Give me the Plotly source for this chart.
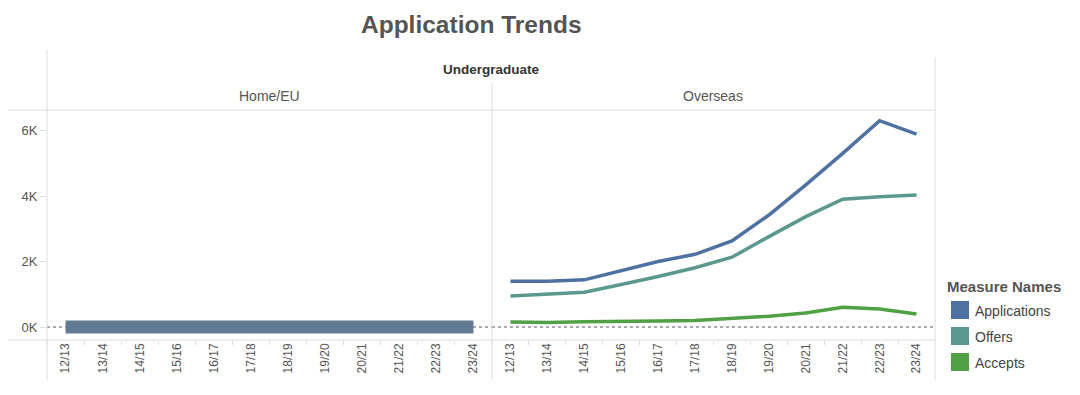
import plotly.graph_objects as go
from plotly.subplots import make_subplots

# ---------------- data ----------------
years = ["12/13", "13/14", "14/15", "15/16", "16/17", "17/18",
         "18/19", "19/20", "20/21", "21/22", "22/23", "23/24"]

# Overseas (values in applicants)
os_applications = [1400, 1400, 1440, 1720, 2000, 2220, 2630, 3420, 4340, 5300, 6300, 5890]
os_offers = [950, 1000, 1060, 1300, 1540, 1810, 2130, 2760, 3370, 3900, 3980, 4030]
os_accepts = [150, 140, 160, 160, 180, 200, 260, 330, 430, 600, 550, 400]

# Home/EU (rendered as a single flat band at zero in the reference)
home_eu = [0, 0, 0, 0, 0, 0, 0, 0, 0, 0, 0, 0]

measures = ["Applications", "Offers", "Accepts"]
colors = {"Applications": "#4f71a2", "Offers": "#5a9890", "Accepts": "#51a046"}
y_ticks = [0, 2000, 4000, 6000]
y_tick_labels = ["0K", "2K", "4K", "6K"]

# ---------------- layout helpers ----------------
OFF = 8  # page body margin
W, H = 1080 - 2 * OFF, 395 - 2 * OFF
def px(x):
    return (x - OFF) / W
def py(y):
    return 1 - (y - OFF) / H

FONT = "Liberation Sans, Arial, Helvetica, sans-serif"
GRID = "#dedede"
TXT = "#555555"

fig = make_subplots(rows=1, cols=2, shared_yaxes=True, horizontal_spacing=0)

# Home/EU band
fig.add_trace(go.Scatter(x=years, y=home_eu, mode="lines",
                         line=dict(color="#627a92", width=13),
                         showlegend=False, hoverinfo="skip"), row=1, col=1)

# Overseas lines
series = {"Applications": os_applications, "Offers": os_offers, "Accepts": os_accepts}
for m in ["Accepts", "Offers", "Applications"]:
    fig.add_trace(go.Scatter(x=years, y=series[m], mode="lines", name=m,
                             line=dict(color=colors[m], width=3.5),
                             showlegend=False), row=1, col=2)

x_left = (px(47), px(492))
x_right = (px(492), px(935))
y_dom = (py(340), py(110))

common_x = dict(type="category", range=[-0.5, 11.5], showgrid=False, zeroline=False,
                showline=False, ticks="outside", tickson="boundaries", ticklen=4,
                tickcolor=GRID, tickangle=-90,
                tickfont=dict(family=FONT, size=12, color=TXT))
fig.update_xaxes(**common_x)
fig.update_layout(
    xaxis=dict(domain=list(x_left)),
    xaxis2=dict(domain=list(x_right)),
    yaxis=dict(domain=list(y_dom), range=[-397, 6626], tickvals=y_ticks,
               ticktext=y_tick_labels, showgrid=False, zeroline=False,
               showline=False, ticks="outside", ticklen=6, tickcolor=GRID,
               tickfont=dict(family=FONT, size=13, color=TXT)),
    yaxis2=dict(domain=list(y_dom), range=[-397, 6626], showticklabels=False,
                showgrid=False, zeroline=False, ticks=""),
)

shapes = []
def hline(y, x0, x1, color=GRID, dash="solid", width=1):
    shapes.append(dict(type="line", xref="paper", yref="paper",
                       x0=px(x0), x1=px(x1), y0=py(y), y1=py(y),
                       line=dict(color=color, width=width, dash=dash)))
def vline(x, y0, y1, color=GRID, width=1):
    shapes.append(dict(type="line", xref="paper", yref="paper",
                       x0=px(x), x1=px(x), y0=py(y0), y1=py(y1),
                       line=dict(color=color, width=width)))

hline(110, 8, 935)
hline(340, 8, 935)
vline(47, 50, 380)
vline(492, 83, 380)
vline(935, 57, 380)

# zero reference line (dotted) across both panes
for xr, yr in (("x", "y"), ("x2", "y2")):
    shapes.append(dict(type="line", xref=f"{xr} domain", yref=yr,
                       x0=0, x1=1, y0=0, y1=0,
                       line=dict(color="#555555", width=1, dash="dot"), layer="below"))

# legend swatches
leg_y = [301, 327, 353]
for m, y0 in zip(measures, leg_y):
    shapes.append(dict(type="rect", xref="paper", yref="paper",
                       x0=px(951), x1=px(969), y0=py(y0 + 18), y1=py(y0),
                       fillcolor=colors[m], line=dict(width=0)))

annotations = [
    dict(text="<b>Application Trends</b>", x=px(471), y=py(25), xref="paper", yref="paper",
         showarrow=False, font=dict(family=FONT, size=24.5, color=TXT), xanchor="center", yanchor="middle"),
    dict(text="<b>Undergraduate</b>", x=px(491), y=py(70), xref="paper", yref="paper",
         showarrow=False, font=dict(family=FONT, size=13.5, color="#333333"), xanchor="center", yanchor="middle"),
    dict(text="Home/EU", x=px(269), y=py(96), xref="paper", yref="paper",
         showarrow=False, font=dict(family=FONT, size=14, color=TXT), xanchor="center", yanchor="middle"),
    dict(text="Overseas", x=px(713), y=py(96), xref="paper", yref="paper",
         showarrow=False, font=dict(family=FONT, size=14, color=TXT), xanchor="center", yanchor="middle"),
    dict(text="<b>Measure Names</b>", x=px(945), y=py(286), xref="paper", yref="paper",
         showarrow=False, font=dict(family=FONT, size=15, color=TXT), xanchor="left", yanchor="middle"),
]
for m, y0 in zip(measures, leg_y):
    annotations.append(dict(text=m, x=px(973), y=py(y0 + 10), xref="paper", yref="paper",
                            showarrow=False, font=dict(family=FONT, size=14, color="#444444"),
                            xanchor="left", yanchor="middle"))

fig.update_layout(
    width=W, height=H,
    margin=dict(l=0, r=0, t=0, b=0),
    paper_bgcolor="white", plot_bgcolor="white",
    showlegend=False,
    shapes=shapes, annotations=annotations,
    font=dict(family=FONT, color=TXT),
)

fig.write_html("out.html")
